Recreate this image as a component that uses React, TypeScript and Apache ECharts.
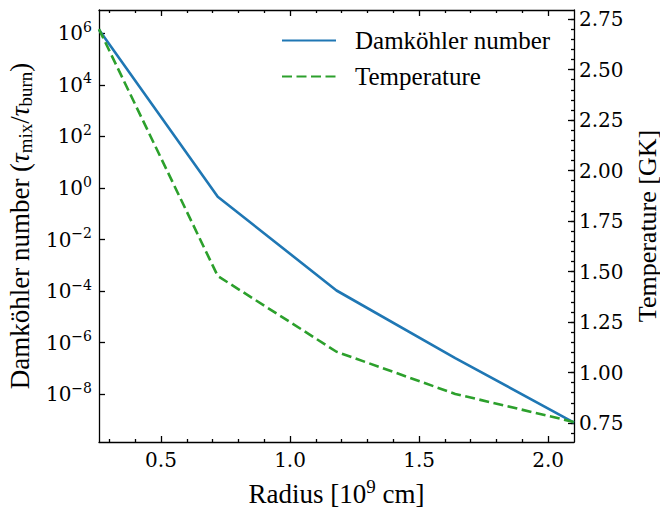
import React, { useEffect, useRef } from "react";
import * as echarts from "echarts";

const radius = [0.26, 0.72, 1.18, 1.64, 2.1];
const damkohler = [1.4e6, 0.46, 1.05e-4, 2.5e-7, 7.8e-10];
const temperature = [2.7, 1.478, 1.103, 0.894, 0.755];

const xMajorTicks = [0.5, 1.0, 1.5, 2.0];
const xMinorTicks = [0.3, 0.4, 0.6, 0.7, 0.8, 0.9, 1.1, 1.2, 1.3, 1.4, 1.6, 1.7, 1.8, 1.9];
const leftTicks = [1e-8, 1e-6, 1e-4, 1e-2, 1, 1e2, 1e4, 1e6];
const tempMajorTicks = [0.75, 1.0, 1.25, 1.5, 1.75, 2.0, 2.25, 2.5, 2.75];
const tempMinorTicks: number[] = [];
for (let k = 14; k <= 55; k++) tempMinorTicks.push(Math.round(k * 5) / 100);

const X_MIN = 0.26;
const X_MAX = 2.1;
const L_MIN = Math.pow(10, -9.86);
const L_MAX = Math.pow(10, 6.91);
const T_MIN = 0.656;
const T_MAX = 2.795;

const TICK_FONT = "DejaVu Serif";
const TITLE_FONT = "Liberation Serif";
const lineStyle = { color: "#000", width: 1.3 };

export default function App() {
  const ref = useRef<HTMLDivElement>(null);
  useEffect(() => {
    if (!ref.current) return;
    const chart = echarts.init(ref.current, null, { renderer: "svg" });
    const sup = (n: number) => (n < 0 ? "\u2212" + -n : String(n));
    const minorX = (position: string) => ({
      type: "value",
      min: X_MIN,
      max: X_MAX,
      position,
      axisLine: { show: false },
      axisTick: { show: true, inside: true, length: 3, customValues: xMinorTicks, lineStyle },
      axisLabel: { show: false },
      splitLine: { show: false },
    });
    const option: any = {
      animation: false,
      backgroundColor: "#fff",
      textStyle: { fontFamily: TITLE_FONT, color: "#000" },
      grid: { left: 99, right: 86, top: 10, bottom: 70, containLabel: false, outerBoundsMode: "none" },
      legend: {
        orient: "vertical",
        left: 276,
        top: 23,
        itemWidth: 54,
        itemHeight: 25,
        itemGap: 11,
        itemStyle: { opacity: 0 },
        textStyle: { fontFamily: TITLE_FONT, fontSize: 25, color: "#000", padding: [0, 0, 0, 14] },
        data: ["Damköhler number", "Temperature"],
      },
      xAxis: [
        {
          type: "value",
          min: X_MIN,
          max: X_MAX,
          position: "bottom",
          axisLine: { show: true, onZero: false, lineStyle },
          axisTick: { show: true, inside: true, length: 6, customValues: xMajorTicks, lineStyle },
          axisLabel: {
            customValues: xMajorTicks,
            formatter: (v: number) => v.toFixed(1),
            margin: 8,
            fontFamily: TICK_FONT,
            fontSize: 20,
            color: "#000",
          },
          splitLine: { show: false },
          name: "{n|Radius [10}{s|9}{n| cm]}",
          nameLocation: "middle",
          nameGap: 35,
          nameTextStyle: {
            rich: {
              n: { fontFamily: TITLE_FONT, fontSize: 27, color: "#000" },
              s: { fontFamily: TITLE_FONT, fontSize: 19, color: "#000", padding: [0, 0, 14, 0] },
            },
          },
        },
        minorX("bottom"),
        {
          type: "value",
          min: X_MIN,
          max: X_MAX,
          position: "top",
          axisLine: { show: true, onZero: false, lineStyle },
          axisTick: { show: true, inside: true, length: 6, customValues: xMajorTicks, lineStyle },
          axisLabel: { show: false },
          splitLine: { show: false },
        },
        minorX("top"),
      ],
      yAxis: [
        {
          type: "log",
          logBase: 10,
          min: L_MIN,
          max: L_MAX,
          position: "left",
          axisLine: { show: true, onZero: false, lineStyle },
          axisTick: { show: true, inside: true, length: 6, customValues: leftTicks, lineStyle },
          minorTick: { show: false },
          axisLabel: {
            customValues: leftTicks,
            formatter: (v: number) => "{b|10}{s|" + sup(Math.round(Math.log10(v))) + "}",
            margin: 7,
            fontFamily: TICK_FONT,
            fontSize: 20,
            rich: {
              b: { fontFamily: TICK_FONT, fontSize: 20, color: "#000" },
              s: { fontFamily: TICK_FONT, fontSize: 14, color: "#000", padding: [0, 0, 13, 0] },
            },
          },
          splitLine: { show: false },
          name: "{n|Damköhler number (}{t|τ}{b|mix}{n|/}{t|τ}{b|burn}{n|)}",
          nameLocation: "middle",
          nameRotate: 90,
          nameGap: 57,
          nameTextStyle: {
            rich: {
              n: { fontFamily: TITLE_FONT, fontSize: 27, color: "#000" },
              t: { fontFamily: TITLE_FONT, fontSize: 27, fontStyle: "italic", color: "#000" },
              b: { fontFamily: TITLE_FONT, fontSize: 19, color: "#000", padding: [12, 0, 0, 0] },
            },
          },
        },
        {
          type: "value",
          min: T_MIN,
          max: T_MAX,
          position: "right",
          axisLine: { show: true, onZero: false, lineStyle },
          axisTick: { show: true, inside: true, length: 6, customValues: tempMajorTicks, lineStyle },
          axisLabel: {
            customValues: tempMajorTicks,
            formatter: (v: number) => v.toFixed(2),
            margin: 5,
            fontFamily: TICK_FONT,
            fontSize: 20,
            color: "#000",
          },
          splitLine: { show: false },
          name: "Temperature [GK]",
          nameLocation: "middle",
          nameRotate: 90,
          nameGap: 56,
          nameTextStyle: { fontFamily: TITLE_FONT, fontSize: 26, color: "#000" },
        },
        {
          type: "value",
          min: T_MIN,
          max: T_MAX,
          position: "right",
          axisLine: { show: false },
          axisTick: { show: true, inside: true, length: 3, customValues: tempMinorTicks, lineStyle },
          axisLabel: { show: false },
          splitLine: { show: false },
        },
      ],
      series: [
        {
          type: "line",
          name: "Damköhler number",
          xAxisIndex: 0,
          yAxisIndex: 0,
          data: radius.map((r, i) => [r, damkohler[i]]),
          symbol: "none",
          lineStyle: { color: "#1f77b4", width: 2.6 },
          itemStyle: { color: "#1f77b4" },
        },
        {
          type: "line",
          name: "Temperature",
          xAxisIndex: 0,
          yAxisIndex: 1,
          data: radius.map((r, i) => [r, temperature[i]]),
          symbol: "none",
          lineStyle: { color: "#2ca02c", width: 2.6, type: [10, 4.5] },
          itemStyle: { color: "#2ca02c" },
        },
      ],
    };
    chart.setOption(option);
    return () => chart.dispose();
  }, []);
  return (
    <div
      ref={ref}
      style={{ position: "fixed", left: 0, top: 0, width: 660, height: 512, background: "#fff" }}
    />
  );
}
